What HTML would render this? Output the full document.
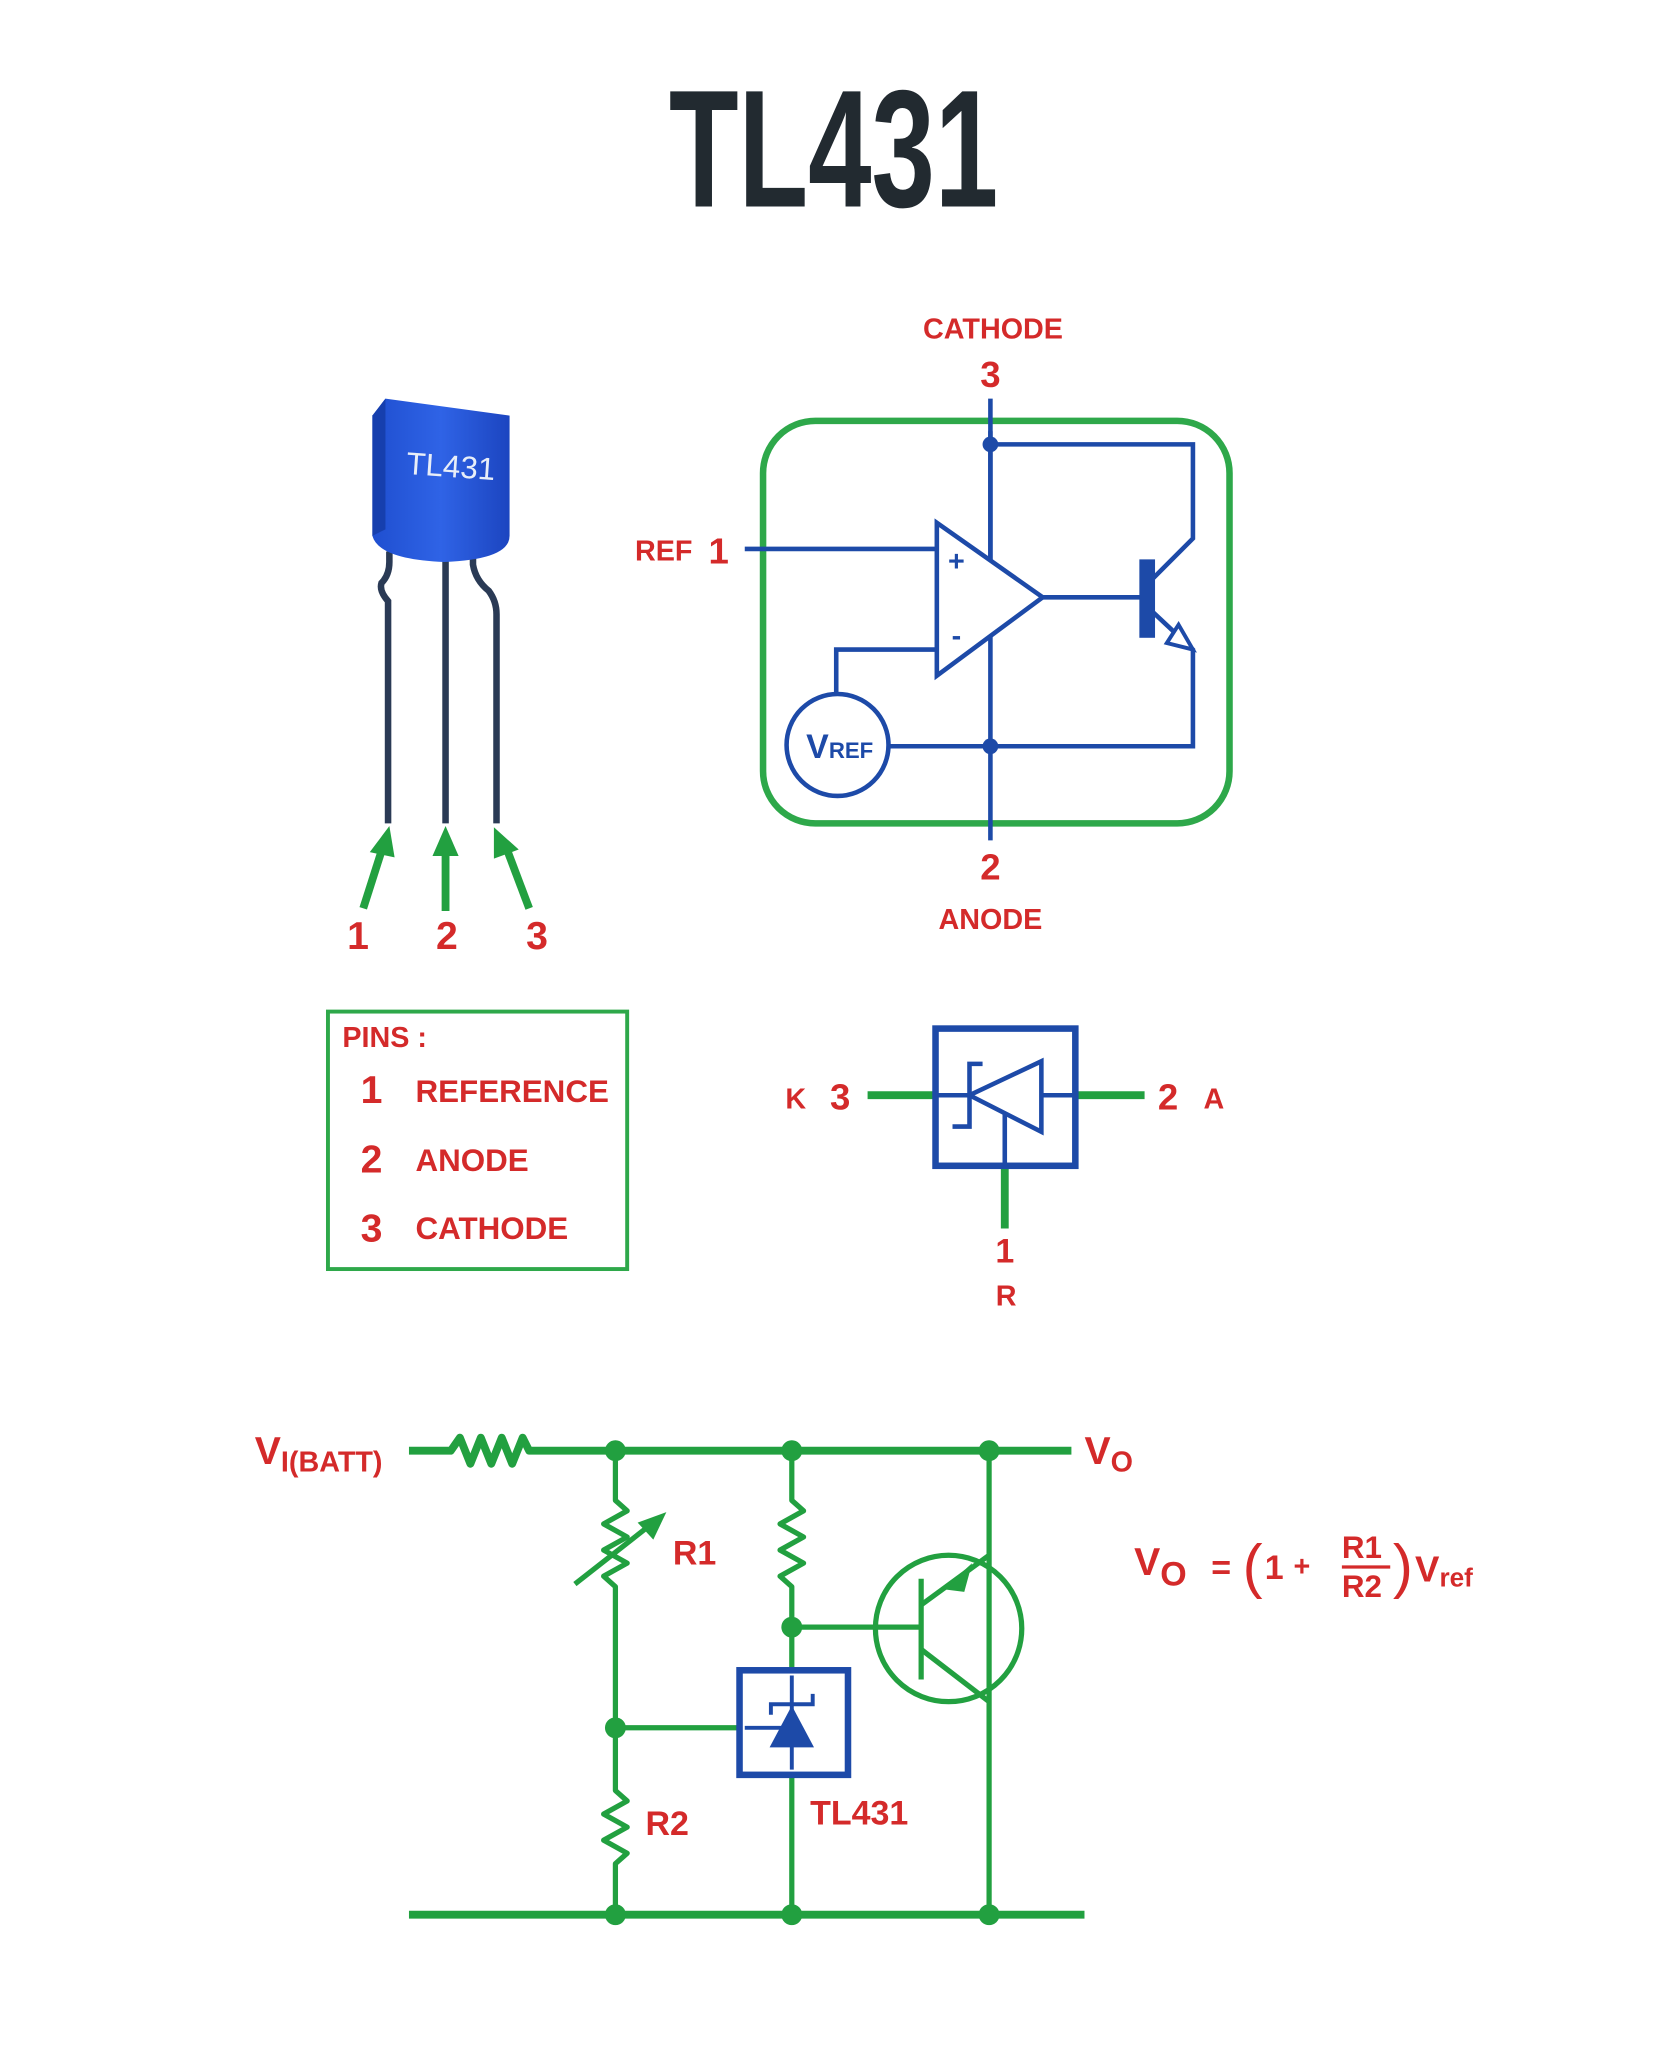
<!DOCTYPE html>
<html><head><meta charset="utf-8"><style>
html,body{margin:0;padding:0;background:#fff;}
svg{display:block;}
text{font-family:"Liberation Sans",sans-serif;font-weight:bold;}
</style></head><body>
<svg width="1662" height="2048" viewBox="0 0 1272 1567" preserveAspectRatio="none" xmlns="http://www.w3.org/2000/svg">
<rect width="1280" height="1577" fill="#fff"/>
<!-- Title -->
<text x="638" y="158" text-anchor="middle" font-size="128" fill="#222a30" textLength="252" lengthAdjust="spacingAndGlyphs">TL431</text>

<!-- Package -->
<defs>
<linearGradient id="bg" x1="0" x2="1"><stop offset="0" stop-color="#1f4fd0"/><stop offset="0.5" stop-color="#2f63e6"/><stop offset="1" stop-color="#1c45c0"/></linearGradient>
</defs>
<path d="M298,422 L298,430 Q298,440 292,446 Q290,452 297,460 L297,630" fill="none" stroke="#2a3a55" stroke-width="5"/>
<path d="M341,422 L341,630" fill="none" stroke="#2a3a55" stroke-width="5"/>
<path d="M362,422 L362,432 Q364,444 374,452 Q380,460 380,470 L380,630" fill="none" stroke="#2a3a55" stroke-width="5"/>
<path d="M285,318 L295,305 L390,318 L390,410 Q390,428 340,430 Q290,428 285,410 Z" fill="url(#bg)"/>
<path d="M285,318 L295,305 L295,405 L285,410 Z" fill="#163fae"/>
<text x="345" y="365" text-anchor="middle" font-size="24" fill="#e8eef8" transform="rotate(4 345 358)" style="font-weight:normal">TL431</text>

<!-- arrows -->
<g stroke="#22a040" stroke-width="6" fill="#22a040">
<line x1="278" y1="695" x2="293" y2="648"/>
<line x1="341" y1="697" x2="341" y2="650"/>
<line x1="405" y1="695" x2="388" y2="650"/>
</g>
<g fill="#22a040">
<polygon points="298,632 283,652 302,656"/>
<polygon points="341,632 331,655 351,655"/>
<polygon points="378,633 378,657 397,650"/>
</g>
<g fill="#d42a2a" font-size="30" text-anchor="middle">
<text x="274" y="726">1</text><text x="342" y="726">2</text><text x="411" y="726">3</text>
</g>

<!-- Internal schematic -->
<rect x="584" y="322" width="357" height="308" rx="40" fill="none" stroke="#2ea84a" stroke-width="5"/>
<g stroke="#1d4aa8" stroke-width="3.5" fill="none">
<line x1="758" y1="305" x2="758" y2="643"/>
<polyline points="758,340 913,340 913,412 882,443"/>
<polyline points="882,468 913,497 913,571 680,571"/>
<line x1="570" y1="420" x2="717" y2="420"/>
<polygon points="717,400 717,517 798,457" fill="#fff"/>
<line x1="798" y1="457" x2="873" y2="457"/>
<polyline points="717,497 640,497 640,531"/>
<circle cx="641" cy="570" r="39" fill="#fff"/>
</g>
<line x1="758" y1="330" x2="758" y2="428" stroke="#1d4aa8" stroke-width="3.5"/>
<rect x="872" y="428" width="12" height="60" fill="#1d4aa8"/>
<polygon points="902,478 913,497 893,492" fill="#fff" stroke="#1d4aa8" stroke-width="3"/>
<circle cx="758" cy="340" r="6" fill="#1d4aa8"/>
<circle cx="758" cy="571" r="6" fill="#1d4aa8"/>
<text x="732" y="437" text-anchor="middle" font-size="22" fill="#1d4aa8">+</text>
<text x="732" y="494" text-anchor="middle" font-size="22" fill="#1d4aa8">-</text>
<text x="617" y="580" font-size="26" fill="#1d4aa8">V<tspan font-size="17">REF</tspan></text>
<g fill="#d42a2a" text-anchor="middle">
<text x="760" y="259" font-size="22">CATHODE</text>
<text x="758" y="296" font-size="28">3</text>
<text x="508" y="429" font-size="22">REF</text>
<text x="550" y="431" font-size="28">1</text>
<text x="758" y="673" font-size="28">2</text>
<text x="758" y="711" font-size="22">ANODE</text>
</g>

<!-- Pins box -->
<rect x="251" y="774" width="229" height="197" fill="none" stroke="#2ea84a" stroke-width="3"/>
<g fill="#d42a2a">
<text x="262" y="801" font-size="22">PINS :</text>
<text x="276" y="844" font-size="30">1</text><text x="318" y="843" font-size="24">REFERENCE</text>
<text x="276" y="897" font-size="30">2</text><text x="318" y="896" font-size="24">ANODE</text>
<text x="276" y="950" font-size="30">3</text><text x="318" y="948" font-size="24">CATHODE</text>
</g>

<!-- Symbol -->
<g stroke="#22a040" stroke-width="6">
<line x1="664" y1="838" x2="716" y2="838"/>
<line x1="823" y1="838" x2="876" y2="838"/>
<line x1="769" y1="892" x2="769" y2="940"/>
</g>
<rect x="716" y="787" width="107" height="105" fill="none" stroke="#1d4aa8" stroke-width="5"/>
<g stroke="#1d4aa8" stroke-width="3.5" fill="none">
<line x1="716" y1="838" x2="742" y2="838"/>
<line x1="797" y1="838" x2="823" y2="838"/>
<polygon points="742,838 797,812 797,866"/>
<polyline points="752,814 742,814 742,862 729,862"/>
<line x1="769" y1="851" x2="769" y2="892"/>
</g>
<g fill="#d42a2a" text-anchor="middle">
<text x="609" y="848" font-size="22">K</text><text x="643" y="849" font-size="28">3</text>
<text x="894" y="849" font-size="28">2</text><text x="929" y="848" font-size="22">A</text>
<text x="769" y="966" font-size="26">1</text>
<text x="770" y="999" font-size="22">R</text>
</g>

<!-- Circuit -->
<g stroke="#22a040" stroke-width="6" fill="none" stroke-linejoin="round">
<polyline points="313,1110 345,1110 352,1100 360,1120 368,1100 376,1120 384,1100 392,1120 400,1100 405,1110 820,1110"/>
<line x1="313" y1="1465" x2="830" y2="1465"/>
</g>
<g stroke="#22a040" stroke-width="4" fill="none" stroke-linejoin="round">
<polyline points="471,1110 471,1148 480,1156 462,1166 480,1176 462,1186 480,1196 462,1206 471,1214 471,1370 480,1378 462,1388 480,1398 462,1408 480,1418 471,1426 471,1465"/>
<polyline points="606,1110 606,1148 615,1156 597,1166 615,1176 597,1186 615,1196 597,1206 606,1214 606,1278"/>
<line x1="606" y1="1358" x2="606" y2="1465"/>
<line x1="757" y1="1110" x2="757" y2="1465"/>
<line x1="471" y1="1322" x2="566" y2="1322"/>
<line x1="606" y1="1245" x2="705" y2="1245"/>
<line x1="440" y1="1212" x2="500" y2="1165"/>
<line x1="705" y1="1208" x2="705" y2="1285"/>
<line x1="705" y1="1228" x2="757" y2="1190"/>
<line x1="705" y1="1262" x2="757" y2="1302"/>
<circle cx="726" cy="1246" r="56"/>
</g>
<polygon points="510,1157 488,1165 500,1178" fill="#22a040"/>
<polygon points="722,1216 744,1196 738,1218" fill="#22a040"/>
<g fill="#22a040">
<circle cx="471" cy="1110" r="8"/><circle cx="606" cy="1110" r="8"/><circle cx="757" cy="1110" r="8"/>
<circle cx="471" cy="1465" r="8"/><circle cx="606" cy="1465" r="8"/><circle cx="757" cy="1465" r="8"/>
<circle cx="471" cy="1322" r="8"/><circle cx="606" cy="1245" r="8"/>
</g>
<rect x="566" y="1278" width="83" height="80" fill="#fff" stroke="#1d4aa8" stroke-width="5"/>
<g stroke="#1d4aa8" stroke-width="3" fill="none">
<line x1="606" y1="1282" x2="606" y2="1354"/>
<line x1="570" y1="1322" x2="606" y2="1322"/>
<polyline points="590,1312 590,1304 622,1304 622,1296"/>
</g>
<polygon points="606,1305 589,1337 623,1337" fill="#1d4aa8"/>
<g fill="#d42a2a">
<text x="195" y="1120" font-size="30">V<tspan font-size="22" dy="6">I(BATT)</tspan></text>
<text x="830" y="1120" font-size="30">V<tspan font-size="22" dy="6">O</tspan></text>
<text x="515" y="1197" font-size="26">R1</text>
<text x="494" y="1404" font-size="26">R2</text>
<text x="620" y="1396" font-size="26">TL431</text>
<text x="868" y="1205" font-size="30">V<tspan font-size="26" dy="8">O</tspan></text>
<text x="927" y="1208" font-size="26">=</text>
<text x="951" y="1214" font-size="46" style="font-weight:normal">(</text>
<text x="968" y="1208" font-size="26">1</text>
<text x="990" y="1206" font-size="22">+</text>
<text x="1027" y="1192" font-size="24">R1</text>
<line x1="1027" y1="1199" x2="1064" y2="1199" stroke="#d42a2a" stroke-width="2.5"/>
<text x="1027" y="1222" font-size="24">R2</text>
<text x="1066" y="1214" font-size="46" style="font-weight:normal">)</text>
<text x="1083" y="1210" font-size="28">V<tspan font-size="20" dy="4">ref</tspan></text>
</g>
</svg>
</body></html>
